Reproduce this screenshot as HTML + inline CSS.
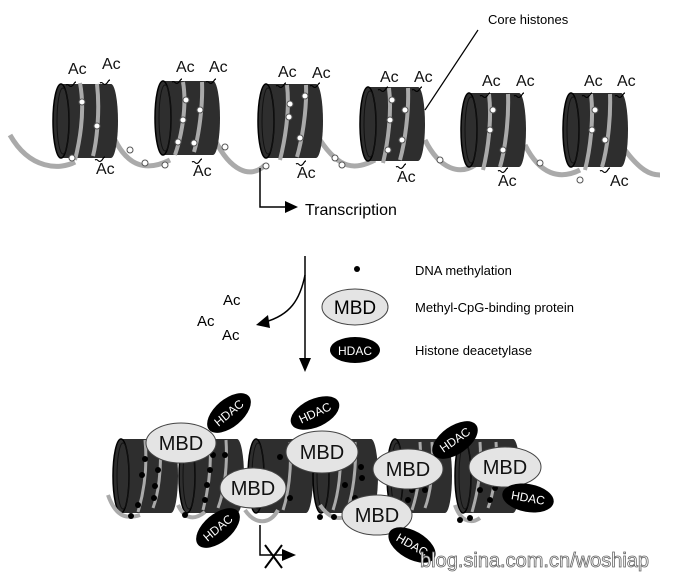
<!DOCTYPE html>
<html><head><style>
html,body{margin:0;padding:0;background:#fff;}
svg{display:block;font-family:"Liberation Sans",sans-serif;}
</style></head><body>
<svg width="697" height="581" viewBox="0 0 697 581" xmlns="http://www.w3.org/2000/svg">
<defs>
<g id="cyl">
<rect x="-24" y="-37" width="50" height="74" fill="#2e2e2e"/>
<ellipse cx="26" cy="0" rx="7" ry="37" fill="#2e2e2e"/>
<ellipse cx="-24" cy="0" rx="8" ry="37" fill="#2e2e2e" stroke="#000" stroke-width="1.5"/>
<ellipse cx="-22" cy="0" rx="6" ry="33" fill="none" stroke="#111" stroke-width="1"/>
</g>
<path id="sq" d="M0,0 c3,-2 3,3 6,1 c2,-1 2,-4 4,-4" fill="none" stroke="#000" stroke-width="1.2"/>
</defs>
<path d="M10,135 C30,170 60,170 75,162 M115,140 C130,170 150,170 170,160 M215,140 C230,170 250,180 265,165 M320,140 C340,170 355,170 375,160 M425,140 C440,170 460,175 475,165 M525,145 C540,175 560,180 580,170 M625,150 C640,170 650,175 660,175" fill="none" stroke="#aaa" stroke-width="5"/>
<g>
<use href="#cyl" x="85" y="121"/>
<use href="#cyl" x="187" y="118"/>
<use href="#cyl" x="290" y="121"/>
<use href="#cyl" x="392" y="124"/>
<use href="#cyl" x="493" y="130"/>
<use href="#cyl" x="595" y="130"/>
</g>
<g fill="none" stroke="#aaa" stroke-width="4">
<path d="M80,83 C85,110 80,140 75,160 M97,84 C100,110 97,140 93,156"/>
<path d="M183,82 C187,105 182,135 175,155 M202,82 C203,105 199,135 194,152"/>
<path d="M287,85 C290,110 285,140 280,160 M306,85 C307,110 302,140 297,157"/>
<path d="M389,88 C392,112 388,142 383,163 M408,88 C409,112 405,142 400,160"/>
<path d="M489,94 C492,120 488,150 483,170 M508,94 C509,120 505,150 500,167"/>
<path d="M591,94 C594,120 590,150 585,170 M610,94 C611,120 607,150 602,167"/>
</g>
<g fill="#fff" stroke="#555" stroke-width="1">
<circle cx="82" cy="102" r="3"/><circle cx="97" cy="126" r="3"/><circle cx="72" cy="158" r="3"/>
<circle cx="130" cy="150" r="3"/><circle cx="145" cy="163" r="3"/><circle cx="165" cy="165" r="3"/>
<circle cx="186" cy="100" r="3"/><circle cx="200" cy="110" r="3"/><circle cx="183" cy="120" r="3"/><circle cx="178" cy="142" r="3"/><circle cx="194" cy="143" r="3"/>
<circle cx="225" cy="147" r="3"/><circle cx="266" cy="166" r="3"/>
<circle cx="290" cy="104" r="3"/><circle cx="289" cy="117" r="3"/><circle cx="305" cy="96" r="3"/><circle cx="300" cy="138" r="3"/>
<circle cx="335" cy="158" r="3"/><circle cx="342" cy="165" r="3"/>
<circle cx="392" cy="100" r="3"/><circle cx="390" cy="120" r="3"/><circle cx="405" cy="110" r="3"/><circle cx="402" cy="140" r="3"/><circle cx="388" cy="150" r="3"/>
<circle cx="440" cy="160" r="3"/><circle cx="493" cy="110" r="3"/><circle cx="490" cy="130" r="3"/><circle cx="503" cy="150" r="3"/><circle cx="540" cy="163" r="3"/>
<circle cx="595" cy="110" r="3"/><circle cx="592" cy="130" r="3"/><circle cx="605" cy="140" r="3"/><circle cx="580" cy="180" r="3"/>
</g>
<g>
<use href="#sq" x="66" y="85"/><use href="#sq" x="100" y="83"/><use href="#sq" x="95" y="160"/>
<use href="#sq" x="172" y="82"/><use href="#sq" x="206" y="82"/><use href="#sq" x="192" y="162"/>
<use href="#sq" x="276" y="86"/><use href="#sq" x="310" y="86"/><use href="#sq" x="296" y="164"/>
<use href="#sq" x="378" y="90"/><use href="#sq" x="412" y="90"/><use href="#sq" x="396" y="167"/>
<use href="#sq" x="480" y="96"/><use href="#sq" x="514" y="96"/><use href="#sq" x="498" y="171"/>
<use href="#sq" x="582" y="96"/><use href="#sq" x="615" y="96"/><use href="#sq" x="600" y="171"/>
</g>
<g font-size="16" fill="#111">
<text x="68" y="74">Ac</text><text x="102" y="69">Ac</text><text x="96" y="174">Ac</text>
<text x="176" y="72">Ac</text><text x="209" y="72">Ac</text><text x="193" y="176">Ac</text>
<text x="278" y="77">Ac</text><text x="312" y="78">Ac</text><text x="297" y="178">Ac</text>
<text x="380" y="82">Ac</text><text x="414" y="82">Ac</text><text x="397" y="182">Ac</text>
<text x="482" y="86">Ac</text><text x="516" y="86">Ac</text><text x="498" y="186">Ac</text>
<text x="584" y="86">Ac</text><text x="617" y="86">Ac</text><text x="610" y="186">Ac</text>
</g>
<text x="488" y="24" font-size="13">Core histones</text>
<line x1="478" y1="30" x2="425" y2="110" stroke="#000" stroke-width="1.2"/>
<path d="M260,168 V207 H285" fill="none" stroke="#000" stroke-width="1.5"/>
<polygon points="285,201 298,207 285,213" fill="#000"/>
<text x="305" y="215" font-size="16">Transcription</text>
<line x1="305" y1="256" x2="305" y2="360" stroke="#000" stroke-width="1.5"/>
<polygon points="299,358 305,372 311,358" fill="#000"/>
<path d="M305,275 C300,300 290,315 265,322" fill="none" stroke="#000" stroke-width="1.5"/>
<polygon points="268,315 256,325 270,328" fill="#000"/>
<g font-size="15"><text x="223" y="305">Ac</text><text x="197" y="326">Ac</text><text x="222" y="340">Ac</text></g>
<circle cx="357" cy="269" r="3" fill="#000"/>
<text x="415" y="275" font-size="13">DNA methylation</text>
<ellipse cx="355" cy="307" rx="33" ry="18" fill="#e4e4e4" stroke="#444"/>
<text x="355" y="314" font-size="19" text-anchor="middle">MBD</text>
<text x="415" y="312" font-size="13">Methyl-CpG-binding protein</text>
<ellipse cx="355" cy="350" rx="25" ry="13" fill="#000"/>
<text x="355" y="355" font-size="12" fill="#fff" text-anchor="middle">HDAC</text>
<text x="415" y="355" font-size="13">Histone deacetylase</text>
<g>
<use href="#cyl" x="145" y="476"/>
<use href="#cyl" x="211" y="476"/>
<use href="#cyl" x="280" y="476"/>
<use href="#cyl" x="345" y="476"/>
<use href="#cyl" x="419" y="476"/>
<use href="#cyl" x="487" y="476"/>
</g>
<path d="M108,495 C115,515 125,520 140,515 M178,505 C185,520 195,520 205,512 M245,510 C255,525 270,525 278,510 M320,505 C330,520 340,520 350,515 M455,505 C460,520 470,525 480,518" fill="none" stroke="#aaa" stroke-width="4"/>
<g fill="none" stroke="#aaa" stroke-width="3">
<path d="M145,440 C148,470 143,495 138,512 M160,442 C162,470 158,495 153,508 M210,440 C212,470 207,495 203,510 M226,440 C228,470 223,495 218,508 M290,442 C292,470 288,495 283,510 M340,442 C342,470 338,495 333,510 M355,442 C357,470 352,495 348,508 M420,442 C422,470 417,495 412,510 M432,442 C434,470 430,495 425,508 M480,442 C482,470 477,495 472,512 M496,442 C498,470 493,495 488,508"/>
</g>
<g fill="#000">
<circle cx="145" cy="459" r="3"/><circle cx="142" cy="475" r="3"/><circle cx="158" cy="470" r="3"/><circle cx="155" cy="486" r="3"/><circle cx="154" cy="498" r="3"/><circle cx="138" cy="505" r="3"/><circle cx="131" cy="516" r="3"/>
<circle cx="213" cy="455" r="3"/><circle cx="225" cy="455" r="3"/><circle cx="210" cy="470" r="3"/><circle cx="207" cy="485" r="3"/><circle cx="205" cy="500" r="3"/><circle cx="185" cy="515" r="3"/>
<circle cx="280" cy="457" r="3"/><circle cx="290" cy="498" r="3"/><circle cx="320" cy="517" r="3"/><circle cx="334" cy="517" r="3"/>
<circle cx="345" cy="485" r="3"/><circle cx="361" cy="467" r="3"/><circle cx="362" cy="478" r="3"/><circle cx="355" cy="498" r="3"/>
<circle cx="412" cy="490" r="3"/><circle cx="408" cy="500" r="3"/><circle cx="425" cy="490" r="3"/>
<circle cx="480" cy="490" r="3"/><circle cx="490" cy="500" r="3"/><circle cx="495" cy="488" r="3"/><circle cx="460" cy="520" r="3"/><circle cx="470" cy="518" r="3"/>
</g>
<path d="M260,525 V555 H282" fill="none" stroke="#000" stroke-width="1.5"/>
<polygon points="282,549 296,555 282,561" fill="#000"/>
<path d="M265,545 L282,568 M282,545 L265,568" stroke="#000" stroke-width="2"/>
<g fill="#e4e4e4" stroke="#444" stroke-width="1">
<ellipse cx="181" cy="443" rx="35" ry="20"/>
<ellipse cx="322" cy="452" rx="36" ry="21"/>
<ellipse cx="253" cy="488" rx="33" ry="20"/>
<ellipse cx="408" cy="469" rx="35" ry="20"/>
<ellipse cx="377" cy="515" rx="35" ry="20"/>
<ellipse cx="505" cy="467" rx="36" ry="20"/>
</g>
<g font-size="20" text-anchor="middle" fill="#111">
<text x="181" y="450">MBD</text><text x="322" y="459">MBD</text><text x="253" y="495">MBD</text>
<text x="408" y="476">MBD</text><text x="377" y="522">MBD</text><text x="505" y="474">MBD</text>
</g>
<g font-size="12" fill="#fff" text-anchor="middle">
<g transform="translate(229,413) rotate(-40)"><ellipse rx="26" ry="14" fill="#000"/><text y="4">HDAC</text></g>
<g transform="translate(315,413) rotate(-25)"><ellipse rx="26" ry="14" fill="#000"/><text y="4">HDAC</text></g>
<g transform="translate(455,440) rotate(-35)"><ellipse rx="26" ry="14" fill="#000"/><text y="4">HDAC</text></g>
<g transform="translate(528,498) rotate(10)"><ellipse rx="26" ry="14" fill="#000"/><text y="4">HDAC</text></g>
<g transform="translate(218,528) rotate(-40)"><ellipse rx="26" ry="14" fill="#000"/><text y="4">HDAC</text></g>
<g transform="translate(412,545) rotate(30)"><ellipse rx="26" ry="14" fill="#000"/><text y="4">HDAC</text></g>
</g>
<text x="420" y="567" font-size="20" fill="#fff" stroke="#666" stroke-width="0.8">blog.sina.com.cn/woshiap</text>
</svg>
</body></html>
